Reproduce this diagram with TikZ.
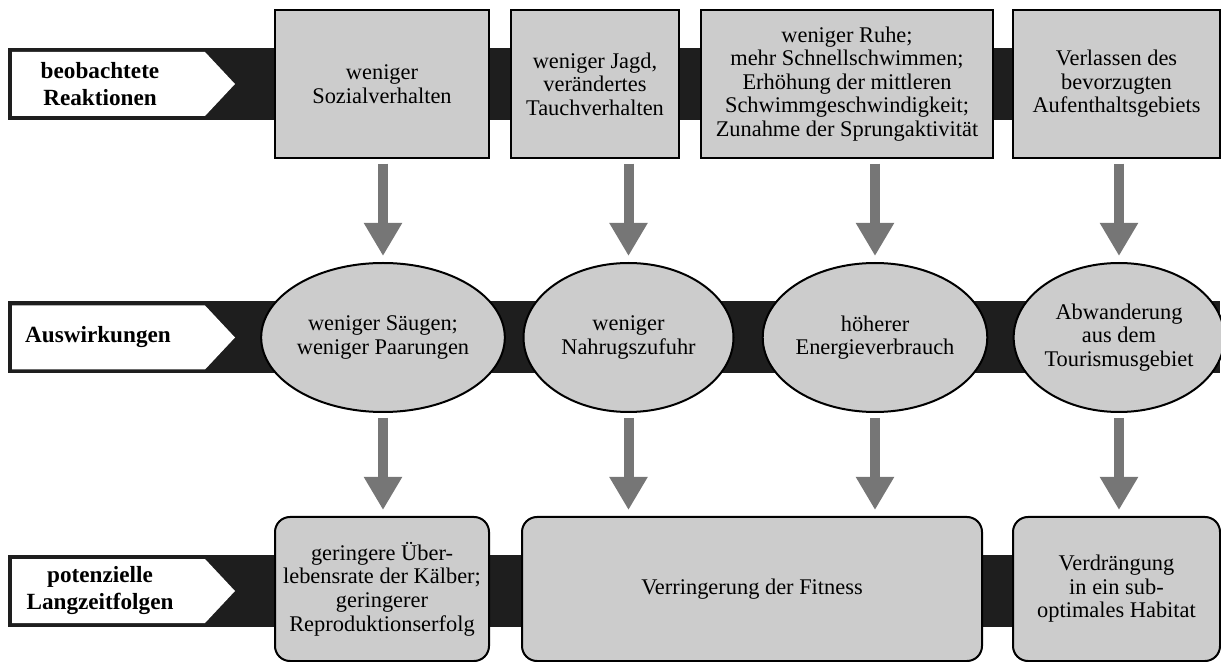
\documentclass[tikz,border=0pt]{standalone}
\usepackage{fontspec}
\setmainfont{Liberation Serif}
\usetikzlibrary{arrows.meta,shapes.geometric}
\definecolor{barblack}{HTML}{1E1E1E}
\definecolor{boxgray}{HTML}{CCCCCC}
\definecolor{arrowgray}{HTML}{767676}

\begin{document}
\begin{tikzpicture}[x=0.5pt,y=-0.5pt,
    txt/.style={align=center,font=\fontsize{11.2}{11.8}\selectfont,inner sep=0pt},
    rowtitle/.style={align=center,font=\bfseries\fontsize{11.6}{13.5}\selectfont,inner sep=0pt},
    obsbox/.style={txt,draw=black,line width=0.75pt,fill=boxgray,minimum height=74pt},
    effect/.style={txt,ellipse,draw=black,line width=1pt,fill=boxgray,minimum width=105pt,minimum height=74.5pt},
    result/.style={txt,draw=black,line width=1pt,fill=boxgray,rounded corners=7.5pt,minimum height=72pt},
    flow/.style={arrowgray,line width=5pt,-{Triangle[length=16.5pt,width=18pt]},shorten <=2.5pt,shorten >=3pt}]
    \useasboundingbox (0,0) rectangle (1221,662);
    % black bars and white row labels
    \foreach \y in {84,337.5,591} {
        \fill[barblack] (8,\y-36) rectangle (1220,\y+36);
        \fill[white] (12,\y-32) -- (205,\y-32) -- (235,\y) -- (205,\y+32) -- (12,\y+32) -- cycle;
    }
    \node[rowtitle] (t1) at (100,84) {beobachtete\\Reaktionen};
    \node[rowtitle] (t2) at (98,337.5) {Auswirkungen};
    \node[rowtitle] (t3) at (100,591) {potenzielle\\Langzeitfolgen};
    % observed reactions
    \node[obsbox,minimum width=107pt] (r1) at (382,84) {weniger\\Sozialverhalten};
    \node[obsbox,minimum width=84pt] (r2) at (595,84) {weniger Jagd,\\verändertes\\Tauchverhalten};
    \node[obsbox,minimum width=146pt] (r3) at (847,84) {weniger Ruhe;\\mehr Schnellschwimmen;\\Erhöhung der mittleren\\Schwimmgeschwindigkeit;\\Zunahme der Sprungaktivität};
    \node[obsbox,minimum width=103.5pt] (r4) at (1116.5,84) {Verlassen des\\bevorzugten\\Aufenthaltsgebiets};
    % effects
    \node[effect] (e1) at (383,337.5) {weniger Säugen;\\weniger Paarungen};
    \node[effect] (e2) at (628.5,337.5) {weniger\\Nahrugszufuhr};
    \node[effect] (e3) at (875,337.5) {höherer\\Energieverbrauch};
    \node[effect,minimum width=103pt] (e4) at (1119,337.5) {Abwanderung\\aus dem\\Tourismusgebiet};
    % long-term consequences
    \node[result,minimum width=107pt] (f1) at (382,589) {geringere Über-\\lebensrate der Kälber;\\geringerer\\Reproduktionserfolg};
    \node[result,minimum width=230pt] (f2) at (752,589) {Verringerung der Fitness};
    \node[result,minimum width=103.5pt] (f3) at (1116.5,589) {Verdrängung\\in ein sub-\\optimales Habitat};
    % arrows
    \foreach \a/\b in {r1/e1,r2/e2,r3/e3,r4/e4}
        \draw[flow] (\a.south -| \b) -- (\b.north);
    \foreach \a/\b in {e1/f1,e2/f2,e3/f2,e4/f3}
        \draw[flow] (\a.south) -- (\a |- \b.north);
\end{tikzpicture}
\end{document}
